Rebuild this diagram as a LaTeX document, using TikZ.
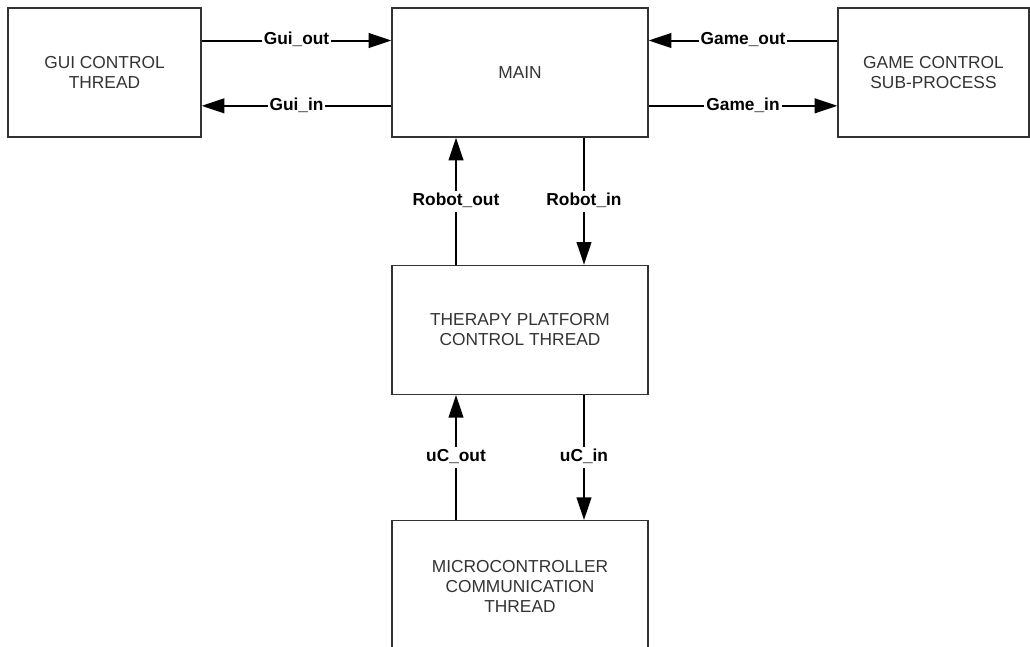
\documentclass[tikz,border=0pt]{standalone}
\usepackage{fontspec}
\setmainfont{Liberation Sans}
\usepackage{tikz}
\usetikzlibrary{positioning,arrows.meta}
\tikzset{
  block/.style={rectangle, draw=black!80, line width=1pt, inner sep=0pt, align=center,
                text=black!80, font=\fontsize{13}{15}\selectfont},
  flow/.style={-{Triangle[length=17pt, width=11pt]}, line width=1.5pt},
  lbl/.style={fill=white, inner sep=1.5pt, text height=9.5pt, text depth=3pt,
              font=\bfseries\fontsize{13}{15}\selectfont},
}
\begin{document}
\begin{tikzpicture}[x=0.75pt, y=-0.75pt]
  \useasboundingbox (0,0) rectangle (1030,646);
  \clip (0,0) rectangle (1030,646);

  \node[block, minimum width=144.75pt, minimum height=96.75pt] (gui) at (104.5,72.5) {GUI CONTROL\\THREAD};
  \node[block, minimum width=192pt, minimum height=96.75pt] (main) at (520,72.5) {MAIN};
  \node[block, minimum width=143.25pt, minimum height=96.75pt] (game) at (933.5,72.5) {GAME CONTROL\\SUB-PROCESS};
  \node[block, minimum width=192pt, minimum height=96.75pt] (therapy) [below=95.25pt of main] {THERAPY PLATFORM\\CONTROL THREAD};
  \node[block, minimum width=192pt, minimum height=98pt] (micro) [below=93.75pt of therapy] {MICROCONTROLLER\\COMMUNICATION\\THREAD};

  % gui <-> main
  \draw[flow] ([yshift=24pt]gui.east) -- node[lbl] {Gui\_out} ([yshift=24pt]main.west);
  \draw[flow] ([yshift=-25pt]main.west) -- node[lbl] {Gui\_in} ([yshift=-25pt]gui.east);

  % game <-> main
  \draw[flow] ([yshift=24pt]game.west) -- node[lbl] {Game\_out} ([yshift=24pt]main.east);
  \draw[flow] ([yshift=-25pt]main.east) -- node[lbl] {Game\_in} ([yshift=-25pt]game.west);

  % main <-> therapy
  \draw[flow] ([xshift=-48pt]therapy.north) -- node[lbl] {Robot\_out} ([xshift=-48pt]main.south);
  \draw[flow] ([xshift=48pt]main.south) -- node[lbl] {Robot\_in} ([xshift=48pt]therapy.north);

  % therapy <-> micro
  \draw[flow] ([xshift=-48pt]micro.north) -- node[lbl] {uC\_out} ([xshift=-48pt]therapy.south);
  \draw[flow] ([xshift=48pt]therapy.south) -- node[lbl] {uC\_in} ([xshift=48pt]micro.north);
\end{tikzpicture}
\end{document}
